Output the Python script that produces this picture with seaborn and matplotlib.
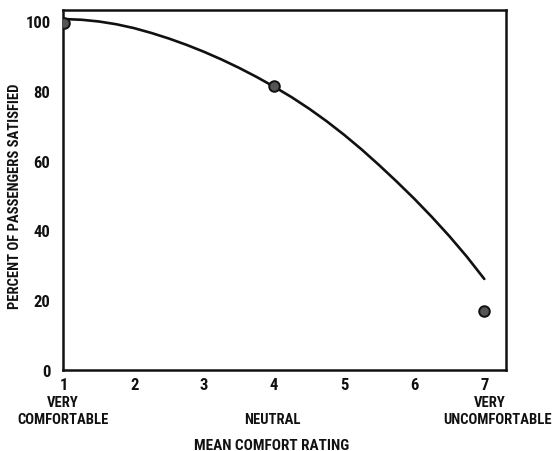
import matplotlib
matplotlib.use("Agg")
import matplotlib.pyplot as plt
import seaborn as sns
import pandas as pd

# Observed data points
rating = [1, 4, 7]
pct_satisfied = [99.4, 81.3, 16.9]

# Fitted curve
curve_rating = [1.0, 1.25, 1.5, 1.75, 2.0, 2.25, 2.5, 2.75, 3.0, 3.25, 3.5, 3.75, 4.0,
                4.25, 4.5, 4.75, 5.0, 5.25, 5.5, 5.75, 6.0, 6.25, 6.5, 6.75, 7.0]
curve_pct = [100.6, 100.4, 99.9, 99.1, 98.0, 96.6, 95.0, 93.2, 91.2, 89.0, 86.6, 84.0, 81.2,
             78.2, 74.9, 71.3, 67.4, 63.2, 58.7, 54.0, 49.1, 43.9, 38.4, 32.5, 26.1]

x_ticks = [1, 2, 3, 4, 5, 6, 7]
y_ticks = [0, 20, 40, 60, 80, 100]

sns.set_theme(style="white")
FAM = ["Roboto Condensed", "Roboto", "DejaVu Sans"]
plt.rcParams["font.family"] = FAM
plt.rcParams["font.weight"] = "bold"
FS = 10.5

fig = plt.figure(figsize=(5.53, 4.52), dpi=100)
ax = fig.add_axes([63 / 553, 1 - 371 / 452, (506 - 63) / 553, (371 - 11) / 452])

curve_df = pd.DataFrame({"rating": curve_rating, "pct": curve_pct})
pts_df = pd.DataFrame({"rating": rating, "pct": pct_satisfied})

sns.lineplot(data=curve_df, x="rating", y="pct", ax=ax, color="#111111", linewidth=1.9,
             sort=False)
sns.scatterplot(data=pts_df, x="rating", y="pct", ax=ax, s=58, color="#555555",
                edgecolor="#111111", linewidth=1.4, zorder=5)

ax.set_xlim(0.985, 7.31)
ax.set_ylim(0, 103.2)
ax.set_xticks(x_ticks)
ax.set_yticks(y_ticks)
ax.set_xticklabels([str(t) for t in x_ticks])
ax.set_yticklabels([str(t) for t in y_ticks])
ax.tick_params(axis="x", direction="in", length=6, width=1.5, color="#111111",
               pad=5, labelsize=12, labelcolor="#111111")
ax.tick_params(axis="y", direction="in", length=8, width=1.5, color="#111111",
               pad=9, labelsize=12, labelcolor="#111111")
ax.set_xlabel("")
ax.set_ylabel("")
for s in ax.spines.values():
    s.set_visible(True)
    s.set_color("#111111")
    s.set_linewidth(1.8)

tkw = dict(ha="center", va="center", fontweight="bold", color="#111111", family=FAM)
W, H = 553, 452
fig.text(63 / W, 1 - 403 / H, "VERY", fontsize=FS, **tkw)
fig.text(63 / W, 1 - 420 / H, "COMFORTABLE", fontsize=FS, **tkw)
fig.text(272 / W, 1 - 420 / H, "NEUTRAL", fontsize=FS, **tkw)
fig.text(490 / W, 1 - 403 / H, "VERY", fontsize=FS, **tkw)
fig.text(498 / W, 1 - 420 / H, "UNCOMFORTABLE", fontsize=FS, **tkw)
fig.text(272 / W, 1 - 446 / H, "MEAN COMFORT RATING", fontsize=11, **tkw)
fig.text(15 / W, 1 - 196 / H, "PERCENT OF PASSENGERS SATISFIED", rotation=90,
         fontsize=FS, **tkw)

fig.savefig("out.png", dpi=100, facecolor="white")
